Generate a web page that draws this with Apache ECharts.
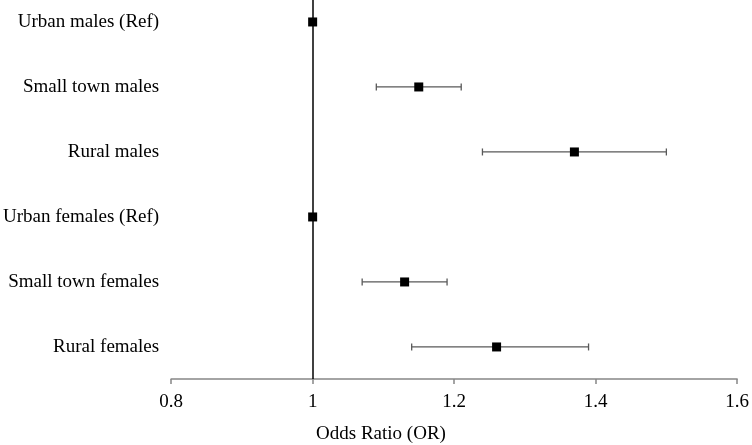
<!DOCTYPE html>
<html><head><meta charset="utf-8">
<script src="https://cdn.jsdelivr.net/npm/echarts@6/dist/echarts.min.js"></script>
<style>html,body{margin:0;padding:0;background:#fff}#c{width:752px;height:445px}</style>
</head><body><div id="c"></div>
<script>
var categories = ['Urban males (Ref)', 'Small town males', 'Rural males', 'Urban females (Ref)', 'Small town females', 'Rural females'];
var oddsRatio = [1, 1.15, 1.37, 1, 1.13, 1.26];
var lowerCI = [1, 1.09, 1.24, 1, 1.07, 1.14];
var upperCI = [1, 1.21, 1.50, 1, 1.19, 1.39];
var xTicks = [0.8, 1, 1.2, 1.4, 1.6];

var FONT = '"Liberation Serif", "Times New Roman", serif';
var chart = echarts.init(document.getElementById('c'), null, {renderer: 'canvas'});
var rowIdx = categories.map(function (c, i) { return i; });
var ciData = categories.map(function (c, i) { return [i, lowerCI[i], upperCI[i]]; });
chart.setOption({
  animation: false,
  grid: {left: 170, right: 14, top: 0, bottom: 66, containLabel: false},
  xAxis: {
    type: 'value', min: 0.8, max: 1.6, interval: 0.2,
    splitLine: {show: false},
    axisLine: {show: true, onZero: false, lineStyle: {color: '#868686', width: 1.5}},
    axisTick: {show: true, length: 5, lineStyle: {color: '#868686', width: 1.5}},
    axisLabel: {color: '#000', fontFamily: FONT, fontSize: 19, margin: 14,
      customValues: xTicks,
      formatter: function (v) { return String(parseFloat(Number(v).toFixed(1))); }}
  },
  yAxis: {
    type: 'value', inverse: true, min: -0.338, max: 5.493,
    splitLine: {show: false},
    axisLine: {show: false, onZero: false}, axisTick: {show: false},
    axisLabel: {color: '#000', fontFamily: FONT, fontSize: 19, margin: 12,
      customValues: rowIdx,
      formatter: function (v) { return categories[Math.round(v)] || ''; }}
  },
  graphic: [{
    type: 'text', x: 381, y: 434,
    style: {text: 'Odds Ratio (OR)', fill: '#000', font: '19px ' + FONT, align: 'center', verticalAlign: 'middle'}
  }],
  series: [
    {
      type: 'custom', z: 2,
      data: ciData,
      encode: {x: [1, 2], y: 0},
      renderItem: function (params, api) {
        var y = api.value(0);
        var lo = api.coord([api.value(1), y]);
        var hi = api.coord([api.value(2), y]);
        if (hi[0] - lo[0] < 0.5) return null;
        var h = 3.5;
        var st = {stroke: '#595959', lineWidth: 1.3};
        return {type: 'group', children: [
          {type: 'line', shape: {x1: lo[0], y1: lo[1], x2: hi[0], y2: hi[1]}, style: st},
          {type: 'line', shape: {x1: lo[0], y1: lo[1] - h, x2: lo[0], y2: lo[1] + h}, style: st},
          {type: 'line', shape: {x1: hi[0], y1: hi[1] - h, x2: hi[0], y2: hi[1] + h}, style: st}
        ]};
      }
    },
    {
      type: 'scatter', z: 3,
      symbol: 'rect', symbolSize: 9,
      itemStyle: {color: '#000', opacity: 1},
      data: categories.map(function (c, i) { return [oddsRatio[i], i]; }),
      markLine: {
        silent: true, symbol: 'none', label: {show: false},
        lineStyle: {color: '#000', width: 1.5, type: 'solid'},
        data: [{xAxis: 1}]
      }
    }
  ]
});
</script></body></html>
